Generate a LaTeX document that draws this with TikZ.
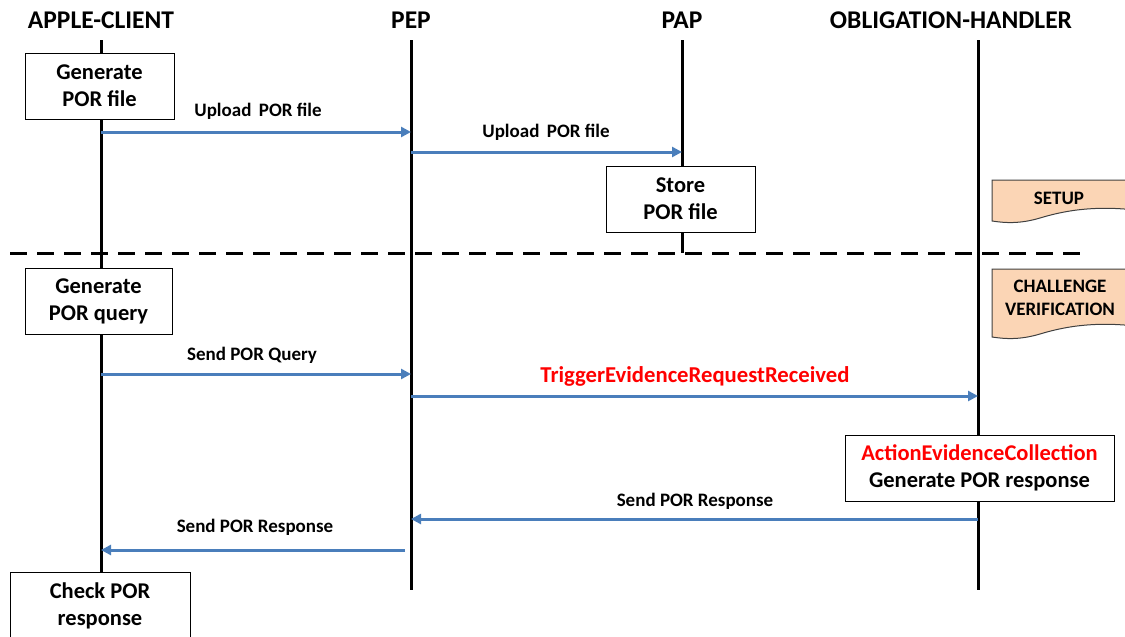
\documentclass[tikz,border=0pt]{standalone}
\usepackage{fontspec}
\setmainfont{Carlito}
\usetikzlibrary{arrows.meta}
\definecolor{arrblue}{HTML}{4A7EBB}
\definecolor{peach}{HTML}{FBD5B5}
\definecolor{tagedge}{HTML}{404040}
\tikzset{
  life/.style={line width=3pt, black},
  msg/.style={line width=3pt, arrblue, -{Triangle[length=10pt,width=10pt]}},
  actbox/.style={draw=black, line width=1pt, fill=white, align=center, font=\fontsize{22.5}{27}\selectfont\bfseries, inner sep=0pt},
  head/.style={font=\fontsize{25.5}{30}\selectfont\bfseries},
  lbl/.style={font=\fontsize{19}{22}\selectfont\bfseries},
  tagtxt/.style={font=\fontsize{19}{23}\selectfont\bfseries, align=center},
  tagshape/.style={draw=tagedge, line width=1pt, fill=peach}
}
\begin{document}
\begin{tikzpicture}[x=1pt,y=-1pt]
\useasboundingbox (0,0) rectangle (1125,637);
\clip (0,0) rectangle (1125,637);
% headers
\node[head] (hA) at (101,20) {APPLE-CLIENT};
\node[head] (hP) at (411,20) {PEP};
\node[head] (hQ) at (682,20) {PAP};
\node[head] (hO) at (951,20) {OBLIGATION-HANDLER};
% lifeline ends
\coordinate (At) at (101,40); \coordinate (Ab) at (101,575);
\coordinate (Pt) at (411,40); \coordinate (Pb) at (411,590);
\coordinate (Qt) at (682,40); \coordinate (Qb) at (682,253);
\coordinate (Ot) at (978,40); \coordinate (Ob) at (978,590);
\draw[life] (At) -- (Ab);
\draw[life] (Pt) -- (Pb);
\draw[life] (Qt) -- (Qb);
\draw[life] (Ot) -- (Ob);
% separator
\coordinate (dL) at (10,253); \coordinate (dR) at (1085,253);
\draw[line width=3pt, dash pattern=on 17pt off 10pt] (dL) -- (dR);
% activity boxes
\node[actbox, minimum width=149pt, minimum height=66pt] (b1) at (99.5,86) {Generate\\POR file};
\node[actbox, minimum width=149pt, minimum height=66pt] (b2) at (680.5,199) {Store\\POR file};
\node[actbox, minimum width=147pt, minimum height=66pt] (b3) at (98.5,301) {Generate\\POR query};
\node[actbox, minimum width=269pt, minimum height=66pt] (b4) at (979.5,468) {\textcolor{red}{ActionEvidenceCollection}\\Generate POR response};
\node[actbox, minimum width=180pt, minimum height=67pt, anchor=north] (b5) at (100,572) {Check POR\\response};
% message points
\coordinate (m1s) at (101,132); \coordinate (m1e) at (411,132);
\coordinate (m2s) at (411,152); \coordinate (m2e) at (682,152);
\coordinate (m3s) at (101,374); \coordinate (m3e) at (411,374);
\coordinate (m4s) at (411,396); \coordinate (m4e) at (978,396);
\coordinate (m5s) at (978,519); \coordinate (m5e) at (411,519);
\coordinate (m6s) at (405,550); \coordinate (m6e) at (101,550);
\draw[msg] (m1s) -- (m1e);
\draw[msg] (m2s) -- (m2e);
\draw[msg] (m3s) -- (m3e);
\draw[msg] (m4s) -- (m4e);
\draw[msg] (m5s) -- (m5e);
\draw[msg] (m6s) -- (m6e);
% labels
\node[lbl] (l1) at (258,111) {Upload\, POR file};
\node[lbl] (l2) at (546,132) {Upload\, POR file};
\node[lbl] (l3) at (252,355) {Send POR Query};
\node[font=\fontsize{22.7}{27}\selectfont\bfseries, text=red] (l4) at (695,376) {TriggerEvidenceRequestReceived};
\node[lbl] (l5) at (695,501) {Send POR Response};
\node[lbl] (l6) at (255,527) {Send POR Response};
% tags
\draw[tagshape] (992,180) -- (1135,180) -- (1135,210)
  .. controls (1090,205) and (1060,212) .. (1040,218)
  .. controls (1020,224) and (1005,223) .. (992,221) -- cycle;
\node[tagtxt] (t1) at (1059,198) {SETUP};
\draw[tagshape] (992,269) -- (1135,269) -- (1135,326)
  .. controls (1090,321) and (1060,328) .. (1040,334)
  .. controls (1020,340) and (1005,339) .. (992,337) -- cycle;
\node[tagtxt] (t2) at (1060,298) {CHALLENGE\\VERIFICATION};
\end{tikzpicture}
\end{document}
